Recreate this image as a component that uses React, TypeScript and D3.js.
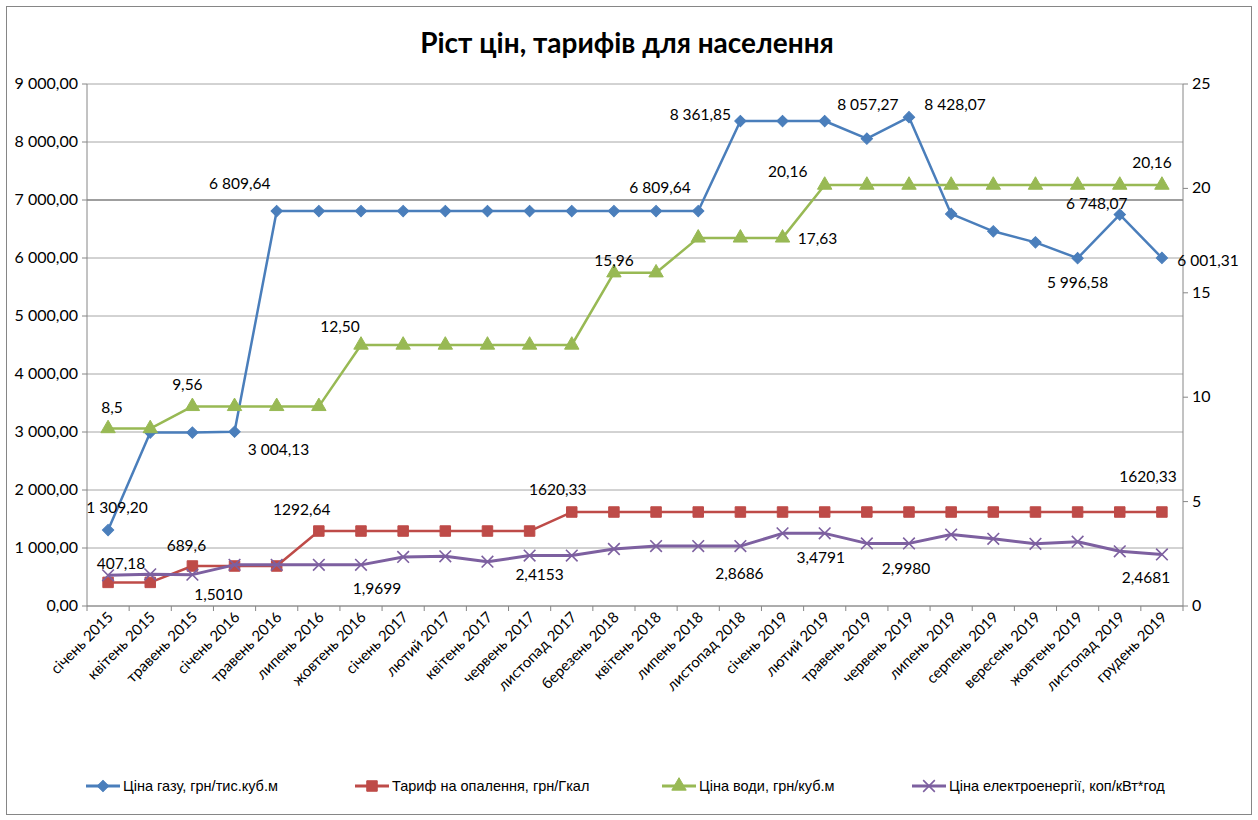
import React from 'react';
import * as d3 from 'd3';

// categories (months)
const months = [
  'січень 2015', 'квітень 2015', 'травень 2015', 'січень 2016', 'травень 2016',
  'липень 2016', 'жовтень 2016', 'січень 2017', 'лютий 2017', 'квітень 2017',
  'червень 2017', 'листопад 2017', 'березень 2018', 'квітень 2018', 'липень 2018',
  'листопад 2018', 'січень 2019', 'лютий 2019', 'травень 2019', 'червень 2019',
  'липень 2019', 'серпень 2019', 'вересень 2019', 'жовтень 2019', 'листопад 2019',
  'грудень 2019'
];

// left axis series
const gas = [
  1309.2, 2990, 2990, 3004.13, 6809.64, 6809.64, 6809.64, 6809.64, 6809.64, 6809.64,
  6809.64, 6809.64, 6809.64, 6809.64, 6809.64, 8361.85, 8361.85, 8361.85, 8057.27, 8428.07,
  6760, 6460, 6270, 5996.58, 6748.07, 6001.31
];
const heating = [
  407.18, 407.18, 689.6, 689.6, 689.6, 1292.64, 1292.64, 1292.64, 1292.64, 1292.64,
  1292.64, 1620.33, 1620.33, 1620.33, 1620.33, 1620.33, 1620.33, 1620.33, 1620.33, 1620.33,
  1620.33, 1620.33, 1620.33, 1620.33, 1620.33, 1620.33
];

// right axis series
const water = [
  8.5, 8.5, 9.56, 9.56, 9.56, 9.56, 12.5, 12.5, 12.5, 12.5,
  12.5, 12.5, 15.96, 15.96, 17.63, 17.63, 17.63, 20.16, 20.16, 20.16,
  20.16, 20.16, 20.16, 20.16, 20.16, 20.16
];
const electricity = [
  1.47, 1.52, 1.501, 1.9699, 1.9699, 1.9699, 1.9699, 2.35, 2.38, 2.12,
  2.4153, 2.4153, 2.73, 2.8686, 2.8686, 2.8686, 3.4791, 3.4791, 2.998, 2.998,
  3.42, 3.22, 2.98, 3.08, 2.62, 2.4681
];

const leftTicks = [0, 1000, 2000, 3000, 4000, 5000, 6000, 7000, 8000, 9000];
const rightTicks = [0, 5, 10, 15, 20, 25];

const title = 'Ріст цін, тарифів для населення';
const legendNames = [
  'Ціна газу, грн/тис.куб.м',
  'Тариф на опалення, грн/Гкал',
  'Ціна води, грн/куб.м',
  'Ціна електроенергії, коп/кВт*год'
];

// data labels: [series, index, text]
const labelTexts: [string, number, string][] = [
  ['gas', 0, '1 309,20'], ['gas', 3, '3 004,13'], ['gas', 4, '6 809,64'], ['gas', 13, '6 809,64'],
  ['gas', 15, '8 361,85'], ['gas', 18, '8 057,27'], ['gas', 19, '8 428,07'], ['gas', 24, '6 748,07'],
  ['gas', 23, '5 996,58'], ['gas', 25, '6 001,31'],
  ['water', 0, '8,5'], ['water', 2, '9,56'], ['water', 6, '12,50'], ['water', 12, '15,96'],
  ['water', 16, '17,63'], ['water', 17, '20,16'], ['water', 25, '20,16'],
  ['heating', 0, '407,18'], ['heating', 2, '689,6'], ['heating', 5, '1292,64'],
  ['heating', 11, '1620,33'], ['heating', 25, '1620,33'],
  ['electricity', 2, '1,5010'], ['electricity', 6, '1,9699'], ['electricity', 10, '2,4153'],
  ['electricity', 15, '2,8686'], ['electricity', 17, '3,4791'], ['electricity', 19, '2,9980'],
  ['electricity', 25, '2,4681']
];
// label offsets from point (px), same order as labelTexts
const labelOffsets = [
  [9, -22], [44, 18], [-37, -27], [4, -23], [-40, -6], [1, -34], [46, -12], [-23, -11], [0, 25], [46, 3],
  [4, -21], [-5, -21], [-21, -18], [0, -12], [35, 1], [-37, -13], [-10, -22],
  [13, -18], [-6, -20], [-17, -21], [-14, -22], [-14, -35],
  [26, 20], [16, 24], [10, 19], [-1, 28], [-4, 25], [-3, 26], [-16, 24]
];

const W = 1258;
const H = 820;
const plot = { left: 87, right: 1183, top: 84, bottom: 606 };

const colors: Record<string, string> = {
  gas: '#4a7ebb',
  heating: '#be4b48',
  water: '#98b954',
  electricity: '#7d60a0'
};

const font = 'Lato, "Open Sans", sans-serif';
const locale = d3.formatLocale({ decimal: ',', thousands: ' ', grouping: [3], currency: ['', ''] });
const fmtLeft = locale.format(',.2f');

const App: React.FC = () => {
  const x = d3.scaleBand<number>()
    .domain(months.map((_, i) => i))
    .range([plot.left, plot.right]);
  const cx = (i: number) => (x(i) ?? 0) + x.bandwidth() / 2;
  const yL = d3.scaleLinear().domain([0, 9000]).range([plot.bottom, plot.top]);
  const yR = d3.scaleLinear().domain([0, 25]).range([plot.bottom, plot.top]);

  // diamond drawn as a rotated square
  const series = [
    { key: 'gas', values: gas, y: yL, symbol: d3.symbolSquare, size: 64, rot: 45, stroke: false },
    { key: 'heating', values: heating, y: yL, symbol: d3.symbolSquare, size: 110, rot: 0, stroke: false },
    { key: 'water', values: water, y: yR, symbol: d3.symbolTriangle, size: 90, rot: 0, stroke: false },
    { key: 'electricity', values: electricity, y: yR, symbol: d3.symbolX, size: 90, rot: 0, stroke: true }
  ];
  const byKey: Record<string, typeof series[0]> = {};
  series.forEach(s => { byKey[s.key] = s; });

  const lineGen = (vals: number[], y: d3.ScaleLinear<number, number>) =>
    d3.line<number>().x((_, i) => cx(i)).y(v => y(v))(vals) || '';

  const boundaries = d3.range(months.length + 1).map(i => plot.left + i * x.bandwidth());

  const legendX = [86, 355, 662, 912];

  return (
    <svg width={W} height={H} style={{ position: 'absolute', left: 0, top: 0, background: '#fff' }}
      fontFamily={font}>
      <rect x={6.5} y={6.5} width={1245} height={808} fill="#fff" stroke="#868686" />

      <text x={627} y={53} textAnchor="middle" fontSize={28} fontWeight="bold" fill="#000">{title}</text>

      {/* gridlines */}
      {leftTicks.map(t => (
        <line key={t} x1={plot.left} x2={plot.right} y1={yL(t)} y2={yL(t)}
          stroke={t === 7000 ? '#7f7f7f' : '#a6a6a6'} strokeWidth={t === 7000 ? 1.6 : 1} />
      ))}

      {/* axes */}
      <line x1={plot.left} x2={plot.left} y1={plot.top} y2={plot.bottom} stroke="#868686" />
      <line x1={plot.right} x2={plot.right} y1={plot.top} y2={plot.bottom} stroke="#868686" />
      <line x1={plot.left} x2={plot.right} y1={plot.bottom} y2={plot.bottom} stroke="#868686" />
      {leftTicks.map(t => (
        <g key={t}>
          <line x1={plot.left - 5} x2={plot.left} y1={yL(t)} y2={yL(t)} stroke="#868686" />
          <text x={78} y={yL(t) + 5} textAnchor="end" fontSize={16} fill="#000">{fmtLeft(t)}</text>
        </g>
      ))}
      {rightTicks.map(t => (
        <g key={t}>
          <line x1={plot.right} x2={plot.right + 5} y1={yR(t)} y2={yR(t)} stroke="#868686" />
          <text x={1192} y={yR(t) + 5} fontSize={16} fill="#000">{t}</text>
        </g>
      ))}
      {boundaries.map((b, i) => (
        <line key={i} x1={b} x2={b} y1={plot.bottom} y2={plot.bottom + 5} stroke="#868686" />
      ))}
      {months.map((m, i) => (
        <text key={m + i} transform={`translate(${cx(i) + 6},${plot.bottom + 12}) rotate(-45)`}
          textAnchor="end" fontSize={15} fill="#000">{m}</text>
      ))}

      {/* lines and markers */}
      {series.map(s => (
        <g key={s.key}>
          <path d={lineGen(s.values, s.y)} fill="none" stroke={colors[s.key]}
            strokeWidth={s.key === 'electricity' ? 3 : 2.5} strokeLinejoin="round" />
          {s.values.map((v, i) => (
            <path key={i} transform={`translate(${cx(i)},${s.y(v)}) rotate(${s.rot})`}
              d={d3.symbol(s.symbol, s.size)() || ''}
              fill={s.stroke ? 'none' : colors[s.key]}
              stroke={colors[s.key]}
              strokeWidth={s.stroke ? 1.6 : 1} />
          ))}
        </g>
      ))}

      {/* data labels */}
      {labelTexts.map(([k, i, txt], j) => {
        const s = byKey[k];
        const [dx, dy] = labelOffsets[j];
        return (
          <text key={j} x={cx(i) + dx} y={s.y(s.values[i]) + dy + 5} textAnchor="middle"
            fontSize={15.5} fill="#000">{txt}</text>
        );
      })}

      {/* legend */}
      {series.map((s, i) => (
        <g key={s.key} transform={`translate(${legendX[i]},786)`}>
          <line x1={0} x2={34} y1={0} y2={0} stroke={colors[s.key]} strokeWidth={3} />
          <path transform={`translate(17,0) rotate(${s.rot})`} d={d3.symbol(s.symbol, s.size)() || ''}
            fill={s.stroke ? 'none' : colors[s.key]}
            stroke={colors[s.key]} strokeWidth={s.stroke ? 1.6 : 1} />
          <text x={37} y={5} fontSize={14.5} fill="#000"
            fontFamily='"Liberation Sans Narrow", "Arial Narrow", sans-serif'>{legendNames[i]}</text>
        </g>
      ))}
    </svg>
  );
};

export default App;
